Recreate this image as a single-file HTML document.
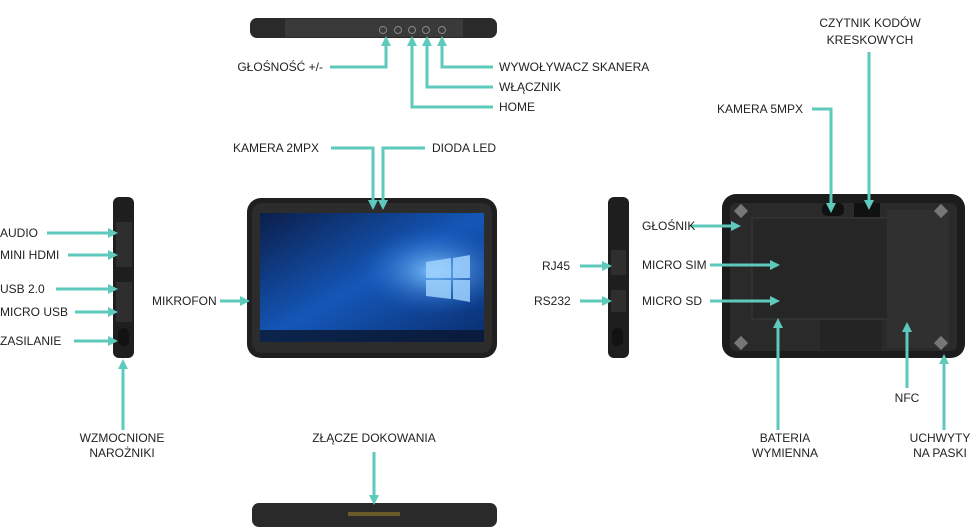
<!DOCTYPE html>
<html><head><meta charset="utf-8"><style>
html,body{margin:0;padding:0;background:#fff;}
svg{display:block;}
text{font-family:"Liberation Sans",sans-serif;font-size:12px;fill:#222;}
</style></head><body>
<svg width="970" height="527" viewBox="0 0 970 527" xmlns="http://www.w3.org/2000/svg">
<defs>
<marker id="a" markerWidth="10" markerHeight="10" refX="5" refY="5" orient="auto" markerUnits="userSpaceOnUse">
<path d="M0,0 L10,5 L0,10 z" fill="#5ecabc"/></marker>
<linearGradient id="scr" x1="0" y1="0" x2="1" y2="1">
<stop offset="0" stop-color="#0b1e4a"/><stop offset="0.5" stop-color="#1457b8"/><stop offset="1" stop-color="#0a2d6e"/></linearGradient>
<radialGradient id="glow" cx="0.78" cy="0.45" r="0.35"><stop offset="0" stop-color="#7fc4ff"/><stop offset="1" stop-color="#1a5cc0" stop-opacity="0"/></radialGradient>
</defs>

<!-- top device -->
<rect x="250" y="18" width="247" height="20" rx="7" fill="#2a2a2b"/>
<rect x="285" y="19" width="178" height="18" fill="#3a3a3b"/>
<g fill="none" stroke="#888" stroke-width="1"><circle cx="383" cy="30" r="3.5"/><circle cx="398" cy="30" r="3.5"/><circle cx="412" cy="30" r="3.5"/><circle cx="426" cy="30" r="3.5"/><circle cx="442" cy="30" r="3.5"/></g>

<!-- front tablet -->
<rect x="247" y="198" width="250" height="160" rx="14" fill="#1f1f20"/>
<rect x="252" y="203" width="240" height="150" rx="10" fill="#2c2c2d"/>
<rect x="260" y="213" width="224" height="129" fill="url(#scr)"/>
<rect x="260" y="213" width="224" height="129" fill="url(#glow)"/>
<g fill="#9fd3ff" opacity="0.85">
<polygon points="426,262 451,258 451,278 426,278"/><polygon points="453,258 470,255 470,278 453,278"/>
<polygon points="426,280 451,280 451,299 426,296"/><polygon points="453,280 470,280 470,302 453,299"/></g>
<rect x="260" y="330" width="224" height="12" fill="#0a1630" opacity="0.8"/>

<!-- left side device -->
<rect x="113" y="197" width="21" height="161" rx="6" fill="#1e1e1f"/>
<rect x="116" y="222" width="16" height="45" fill="#2e2e2f"/>
<rect x="116" y="282" width="16" height="40" fill="#2e2e2f"/>
<rect x="118" y="328" width="11" height="18" rx="5" fill="#121212"/>
<!-- right side device -->
<rect x="608" y="197" width="21" height="161" rx="6" fill="#1e1e1f"/>
<rect x="611" y="250" width="15" height="25" fill="#2e2e2f"/>
<rect x="611" y="290" width="15" height="22" fill="#2e2e2f"/>
<rect x="612" y="328" width="11" height="18" rx="5" fill="#121212"/>

<!-- back -->
<rect x="722" y="194" width="243" height="164" rx="14" fill="#1c1c1d"/>
<rect x="730" y="203" width="227" height="148" rx="6" fill="#2a2a2b"/>
<rect x="752" y="218" width="136" height="101" fill="#262627" stroke="#3a3a3b"/>
<rect x="887" y="210" width="62" height="138" fill="#303031"/>
<rect x="822" y="203" width="22" height="13" rx="5" fill="#111"/>
<rect x="854" y="203" width="26" height="14" fill="#111"/>
<rect x="820" y="320" width="62" height="30" fill="#242425"/>
<g fill="#777"><rect x="736" y="206" width="10" height="10" transform="rotate(45 741 211)"/><rect x="936" y="206" width="10" height="10" transform="rotate(45 941 211)"/><rect x="736" y="338" width="10" height="10" transform="rotate(45 741 343)"/><rect x="936" y="338" width="10" height="10" transform="rotate(45 941 343)"/></g>

<!-- bottom device -->
<rect x="252" y="503" width="245" height="24" rx="7" fill="#2a2a2b"/>
<rect x="348" y="512" width="52" height="4" fill="#6a5a2a"/>

<g fill="none" stroke="#5ecabc" stroke-width="3">
<polyline points="330,67 386,67 386,41" marker-end="url(#a)"/>
<polyline points="493,67 442,67 442,41" marker-end="url(#a)"/>
<polyline points="493,87 427,87 427,41" marker-end="url(#a)"/>
<polyline points="493,107 412,107 412,41" marker-end="url(#a)"/>
<polyline points="331,148 373,148 373,205" marker-end="url(#a)"/>
<polyline points="425,148 383,148 383,205" marker-end="url(#a)"/>
<line x1="220" y1="301" x2="245" y2="301" marker-end="url(#a)"/>
<line x1="47" y1="233" x2="113" y2="233" marker-end="url(#a)"/>
<line x1="68" y1="255" x2="113" y2="255" marker-end="url(#a)"/>
<line x1="56" y1="289" x2="113" y2="289" marker-end="url(#a)"/>
<line x1="75" y1="312" x2="113" y2="312" marker-end="url(#a)"/>
<line x1="74" y1="341" x2="113" y2="341" marker-end="url(#a)"/>
<line x1="123" y1="430" x2="123" y2="364" marker-end="url(#a)"/>
<line x1="580" y1="266" x2="607" y2="266" marker-end="url(#a)"/>
<line x1="580" y1="301" x2="607" y2="301" marker-end="url(#a)"/>
<line x1="690" y1="226" x2="736" y2="226" marker-end="url(#a)"/>
<line x1="710" y1="265" x2="775" y2="265" marker-end="url(#a)"/>
<line x1="710" y1="301" x2="775" y2="301" marker-end="url(#a)"/>
<polyline points="812,109 831,109 831,208" marker-end="url(#a)"/>
<line x1="869" y1="52" x2="869" y2="205" marker-end="url(#a)"/>
<line x1="778" y1="430" x2="778" y2="323" marker-end="url(#a)"/>
<line x1="907" y1="388" x2="907" y2="327" marker-end="url(#a)"/>
<line x1="944" y1="430" x2="944" y2="359" marker-end="url(#a)"/>
<line x1="374" y1="452" x2="374" y2="500" marker-end="url(#a)"/>
</g>

<!-- labels -->
<text x="323" y="71" text-anchor="end">GŁOŚNOŚĆ +/-</text>
<text x="499" y="71">WYWOŁYWACZ SKANERA</text>
<text x="499" y="91">WŁĄCZNIK</text>
<text x="499" y="111">HOME</text>
<text x="233" y="152">KAMERA 2MPX</text>
<text x="432" y="152">DIODA LED</text>
<text x="152" y="305">MIKROFON</text>
<text x="0" y="237">AUDIO</text>
<text x="0" y="259">MINI HDMI</text>
<text x="0" y="293">USB 2.0</text>
<text x="0" y="316">MICRO USB</text>
<text x="0" y="345">ZASILANIE</text>
<text x="122" y="442" text-anchor="middle">WZMOCNIONE</text>
<text x="122" y="457" text-anchor="middle">NAROŻNIKI</text>
<text x="542" y="270">RJ45</text>
<text x="534" y="305">RS232</text>
<text x="642" y="230">GŁOŚNIK</text>
<text x="642" y="269">MICRO SIM</text>
<text x="642" y="305">MICRO SD</text>
<text x="717" y="113">KAMERA 5MPX</text>
<text x="870" y="27" text-anchor="middle">CZYTNIK KODÓW</text>
<text x="870" y="44" text-anchor="middle">KRESKOWYCH</text>
<text x="785" y="442" text-anchor="middle">BATERIA</text>
<text x="785" y="457" text-anchor="middle">WYMIENNA</text>
<text x="907" y="402" text-anchor="middle">NFC</text>
<text x="940" y="442" text-anchor="middle">UCHWYTY</text>
<text x="940" y="457" text-anchor="middle">NA PASKI</text>
<text x="374" y="442" text-anchor="middle">ZŁĄCZE DOKOWANIA</text>
</svg>
</body></html>
